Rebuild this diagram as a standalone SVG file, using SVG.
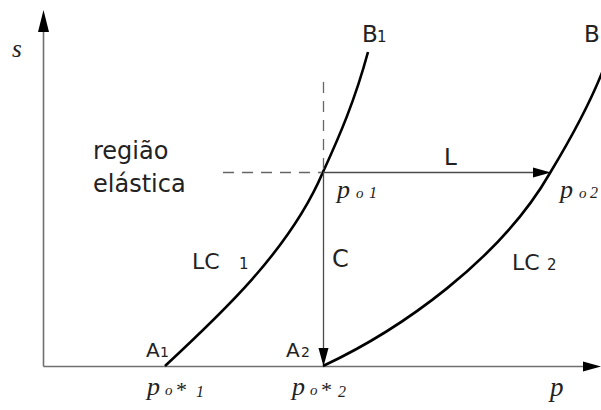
<svg xmlns="http://www.w3.org/2000/svg" width="601" height="410" viewBox="0 0 601 410">
<style>
.ax{stroke:#707070;stroke-width:1.6;fill:none}
.ar{stroke:#4a4a4a;stroke-width:1.3;fill:none}
.cv{stroke:#000;stroke-width:2.6;fill:none}
.dash{stroke:#666;stroke-width:1.3;stroke-dasharray:11 8;fill:none}
.head{fill:#000}
.sans{font-family:"DejaVu Sans","Liberation Sans",sans-serif;fill:#222}
.it{font-family:"Liberation Serif","Times New Roman",serif;font-style:italic;fill:#222}
</style>
<rect width="601" height="410" fill="#fff"/>
<g id="axes">
<line class="ax" x1="43.5" y1="30" x2="43.5" y2="366.5"/>
<polygon class="head" points="43.5,10 38,32 49,32"/>
<line class="ax" x1="43.5" y1="366.5" x2="585" y2="366.5"/>
<polygon class="head" points="601,366.5 583,361.5 583,371.5"/>
</g>
<g id="curves">
<path id="LC1" class="cv" d="M165,366 C220,315 290,250 323,172 C340,135 355,100 368,52"/>
<path id="LC2" class="cv" d="M323,366 C400,330 500,260 550,173 C570,140 590,105 605,65"/>
</g>
<g id="connectors">
<line class="dash" x1="223" y1="172.5" x2="322" y2="172.5"/>
<line class="dash" x1="323.5" y1="82" x2="323.5" y2="171"/>
<line class="ar" x1="323" y1="172.5" x2="535" y2="172.5"/>
<polygon class="head" points="551,172.5 533,167.5 533,177.5"/>
<line class="ar" x1="323.5" y1="172.5" x2="323.5" y2="350"/>
<polygon class="head" points="323.5,366.5 318.5,348 328.5,348"/>
</g>
<g id="labels">
<text class="sans" x="93" y="159" font-size="24">região</text>
<text class="sans" x="93" y="192" font-size="24">elástica</text>
<text class="sans" x="444" y="165" font-size="23">L</text>
<text class="sans" x="332" y="267" font-size="24">C</text>
<text class="sans" x="192" y="269" font-size="22">LC<tspan x="239" font-size="15">1</tspan></text>
<text class="sans" x="512" y="270" font-size="22">LC<tspan x="547" font-size="15">2</tspan></text>
<text class="sans" x="146" y="357" font-size="20">A<tspan x="160" font-size="14">1</tspan></text>
<text class="sans" x="286" y="357" font-size="20">A<tspan x="301" font-size="14">2</tspan></text>
<text class="sans" x="362" y="42" font-size="23">B<tspan x="377" font-size="15">1</tspan></text>
<text class="sans" x="584" y="42" font-size="23">B</text>
<text class="it" x="12" y="57" font-size="25">s</text>
<text class="it" x="550" y="396" font-size="27">p</text>
<text class="it" x="337" y="198" font-size="26">p<tspan x="356" font-size="15">o</tspan><tspan x="369" font-size="16">1</tspan></text>
<text class="it" x="560" y="198" font-size="26">p<tspan x="579" font-size="15">o</tspan><tspan x="590" font-size="16">2</tspan></text>
<text class="it" x="147" y="395" font-size="26">p<tspan x="165" font-size="15">o</tspan><tspan x="175" font-size="22" y="397">*</tspan><tspan x="196" font-size="16" y="397">1</tspan></text>
<text class="it" x="292" y="395" font-size="26">p<tspan x="310" font-size="15">o</tspan><tspan x="320" font-size="22" y="397">*</tspan><tspan x="338" font-size="16" y="397">2</tspan></text>
</g>
</svg>
